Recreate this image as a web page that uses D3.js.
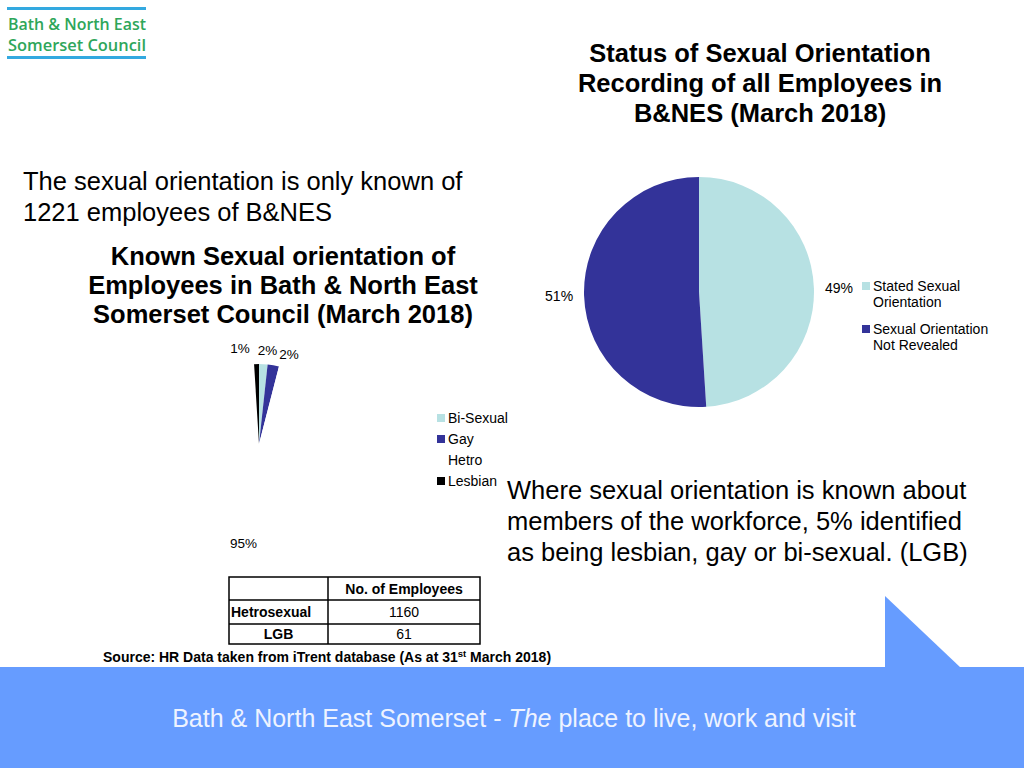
<!DOCTYPE html>
<html>
<head>
<meta charset="utf-8">
<script src="https://cdn.jsdelivr.net/npm/d3@7/dist/d3.min.js"></script>
<style>
  html, body { margin: 0; padding: 0; background: #ffffff; }
  svg { display: block; }
  text { font-family: "Liberation Sans", Arial, sans-serif; fill: #000; }
</style>
</head>
<body>
<svg id="chart" width="1024" height="768"></svg>
<script>
// ---------- DATA ----------
const statusCategories = ["Stated Sexual Orientation", "Sexual Orientation Not Revealed"];
const statusValues = [49, 51];
const statusLegendLines = [["Stated Sexual", "Orientation"], ["Sexual Orientation", "Not Revealed"]];

const knownCategories = ["Bi-Sexual", "Gay", "Hetro", "Lesbian"];
const knownValues = [21, 28, 1160, 12];

const tableHeader = ["", "No. of Employees"];
const tableRows = [["Hetrosexual", "1160"], ["LGB", "61"]];

const statusTitle = ["Status of Sexual Orientation", "Recording of all Employees in", "B&NES (March 2018)"];
const knownTitle = ["Known Sexual orientation of", "Employees in Bath & North East", "Somerset Council (March 2018)"];
const introText = ["The sexual orientation is only known of", "1221 employees of B&NES"];
const noteText = ["Where sexual orientation is known about", "members of the workforce, 5% identified", "as being lesbian, gay or bi-sexual. (LGB)"];

// ---------- SETUP ----------
const svg = d3.select("#chart");
const CYAN = "#b7e1e3", BLUE = "#333399";

// Logo
const logo = svg.append("g");
logo.append("rect").attr("x", 7).attr("y", 7).attr("width", 139).attr("height", 3).attr("fill", "#33a9e0");
logo.append("rect").attr("x", 7).attr("y", 56).attr("width", 139).attr("height", 3).attr("fill", "#33a9e0");
logo.append("text").attr("x", 8).attr("y", 30).text("Bath & North East")
  .attr("textLength", 138).attr("lengthAdjust", "spacingAndGlyphs")
  .style("font-family", "'Open Sans', sans-serif").style("font-size", "15.5px").style("font-weight", "600").style("fill", "#2ea65a");
logo.append("text").attr("x", 8).attr("y", 51).text("Somerset Council")
  .attr("textLength", 138).attr("lengthAdjust", "spacingAndGlyphs")
  .style("font-family", "'Open Sans', sans-serif").style("font-size", "15.5px").style("font-weight", "600").style("fill", "#2ea65a");

// Multi-line text helper
function lines(arr, x, y0, dy, size, weight, anchor) {
  const t = svg.append("text").attr("text-anchor", anchor || "start")
    .style("font-size", size + "px").style("font-weight", weight || "normal");
  arr.forEach((s, i) => t.append("tspan").attr("x", x).attr("y", y0 + i * dy).text(s));
  return t;
}

lines(statusTitle, 760, 62, 30, 25.5, "bold", "middle");
lines(introText, 23, 190, 31, 25.5, "normal", "start");
lines(knownTitle, 283, 265, 29, 25.5, "bold", "middle");
lines(noteText, 507, 499, 31, 25.5, "normal", "start");

// ---------- STATUS PIE ----------
{
  const cx = 699, cy = 292, r = 115;
  const g = svg.append("g").attr("transform", `translate(${cx},${cy})`);
  const pie = d3.pie().sort(null).value(d => d);
  const arcs = pie(statusValues);
  const arc = d3.arc().innerRadius(0).outerRadius(r);
  const labelArc = d3.arc().innerRadius(140).outerRadius(140);
  const color = d3.scaleOrdinal().domain(statusCategories).range([CYAN, BLUE]);
  const total = d3.sum(statusValues);
  g.selectAll("path").data(arcs).join("path")
    .attr("d", arc).attr("fill", (d, i) => color(statusCategories[i]));
  g.selectAll("text.lbl").data(arcs).join("text").attr("class", "lbl")
    .attr("transform", d => `translate(${labelArc.centroid(d)})`)
    .attr("text-anchor", "middle").attr("dominant-baseline", "central")
    .style("font-size", "14px")
    .text(d => Math.round(d.data / total * 100) + "%");
  const lg = svg.append("g").attr("transform", "translate(862,283)");
  statusCategories.forEach((c, i) => {
    const y = i * 43;
    lg.append("rect").attr("x", 0).attr("y", y - 1).attr("width", 8).attr("height", 8).attr("fill", color(c));
    const t = lg.append("text").style("font-size", "14px");
    statusLegendLines[i].forEach((s, j) => t.append("tspan").attr("x", 11).attr("y", y + 8 + j * 16).text(s));
  });
}

// ---------- KNOWN PIE ----------
{
  const cx = 259, cy = 444, r = 80;
  const g = svg.append("g").attr("transform", `translate(${cx},${cy})`);
  const pie = d3.pie().sort(null).value(d => d);
  const arcs = pie(knownValues);
  const arc = d3.arc().innerRadius(0).outerRadius(r);
  const labelArc = d3.arc().innerRadius(100).outerRadius(100);
  const color = d3.scaleOrdinal().domain(knownCategories).range([CYAN, BLUE, "#ffffff", "#000000"]);
  const total = d3.sum(knownValues);
  // small label offsets (Excel-style collision avoidance)
  const nudge = [[3, 6], [12, 9], [-6, 0], [-16, 4]];
  g.selectAll("path").data(arcs).join("path")
    .attr("d", arc).attr("fill", (d, i) => color(knownCategories[i]));
  g.selectAll("text.lbl").data(arcs).join("text").attr("class", "lbl")
    .attr("transform", (d, i) => {
      const c = labelArc.centroid(d);
      return `translate(${c[0] + nudge[i][0]},${c[1] + nudge[i][1]})`;
    })
    .attr("text-anchor", "middle").attr("dominant-baseline", "central")
    .style("font-size", "13.5px")
    .text(d => Math.round(d.data / total * 100) + "%");
  const lg = svg.append("g").attr("transform", "translate(437,418)");
  knownCategories.forEach((c, i) => {
    const y = i * 21;
    lg.append("rect").attr("x", 0).attr("y", y - 4).attr("width", 8).attr("height", 8).attr("fill", color(c));
    lg.append("text").attr("x", 11).attr("y", y).attr("dominant-baseline", "central")
      .style("font-size", "14px").text(c);
  });
}

// ---------- TABLE ----------
{
  const x0 = 229, x1 = 328, x2 = 480;
  const ys = [577, 600, 624, 644];
  const tg = svg.append("g");
  tg.append("rect").attr("x", x0).attr("y", ys[0]).attr("width", x2 - x0).attr("height", ys[3] - ys[0])
    .attr("fill", "none").attr("stroke", "#000").attr("stroke-width", 1.5);
  tg.append("line").attr("x1", x1).attr("x2", x1).attr("y1", ys[0]).attr("y2", ys[3]).attr("stroke", "#000").attr("stroke-width", 1.5);
  [ys[1], ys[2]].forEach(y => tg.append("line").attr("x1", x0).attr("x2", x2).attr("y1", y).attr("y2", y).attr("stroke", "#000").attr("stroke-width", 1.5));
  tg.append("text").attr("x", (x1 + x2) / 2).attr("y", (ys[0] + ys[1]) / 2).attr("text-anchor", "middle")
    .attr("dominant-baseline", "central").style("font-size", "14px").style("font-weight", "bold").text(tableHeader[1]);
  tableRows.forEach((row, i) => {
    const ym = (ys[i + 1] + ys[i + 2]) / 2;
    tg.append("text").attr("x", i === 0 ? x0 + 2 : (x0 + x1) / 2).attr("y", ym)
      .attr("text-anchor", i === 0 ? "start" : "middle").attr("dominant-baseline", "central")
      .style("font-size", "14px").style("font-weight", "bold").text(row[0]);
    tg.append("text").attr("x", (x1 + x2) / 2).attr("y", ym).attr("text-anchor", "middle")
      .attr("dominant-baseline", "central").style("font-size", "14px").text(row[1]);
  });
}

// Source
{
  const t = svg.append("text").attr("x", 103).attr("y", 662).style("font-size", "14px").style("font-weight", "bold");
  t.append("tspan").text("Source: HR Data taken from iTrent database (As at 31");
  t.append("tspan").attr("dy", -5).style("font-size", "9.5px").text("st");
  t.append("tspan").attr("dy", 5).text(" March 2018)");
}

// ---------- FOOTER ----------
const FOOT = "#669cff";
svg.append("rect").attr("x", 0).attr("y", 667).attr("width", 1024).attr("height", 101).attr("fill", FOOT);
svg.append("path").attr("d", "M885,596 L885,668 L961,668 Z").attr("fill", FOOT);
{
  const t = svg.append("text").attr("x", 514).attr("y", 727).attr("text-anchor", "middle")
    .style("font-family", "'Liberation Sans Narrow', 'Liberation Sans', Arial, sans-serif")
    .style("font-size", "25px").style("fill", "#eef3ff");
  t.append("tspan").text("Bath & North East Somerset - ").style("fill", "#eef3ff");
  t.append("tspan").text("The").style("font-style", "italic").style("fill", "#eef3ff");
  t.append("tspan").text(" place to live, work and visit").style("fill", "#eef3ff");
}
</script>
</body>
</html>
